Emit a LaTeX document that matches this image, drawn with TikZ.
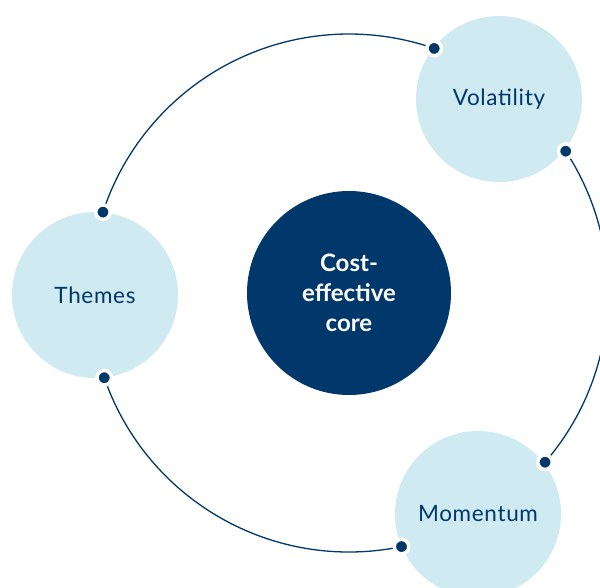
\documentclass[tikz,border=0pt]{standalone}
\usepackage{fontspec}
\setmainfont{Lato}
\newfontfamily\satfont[LetterSpace=3]{Lato}
\usetikzlibrary{calc}
\definecolor{navy}{RGB}{0,56,107}
\definecolor{pale}{RGB}{208,234,242}
\tikzset{
  sat/.style={circle, fill=pale, minimum size=166pt, inner sep=0pt, text=navy,
    font=\satfont\fontsize{22.5}{26}\selectfont},
  corenode/.style={circle, fill=navy, minimum size=204pt, inner sep=0pt, text=white,
    font=\bfseries\fontsize{24}{30}\selectfont, align=center},
  link/.style={draw=navy, line width=1.3pt},
  dotnode/.style={circle, fill=navy, draw=white, line width=3.5pt, minimum size=14.5pt, inner sep=0pt}
}
\begin{document}
\begin{tikzpicture}[x=1pt,y=1pt]
\useasboundingbox (0,0) rectangle (600,587);
\clip (0,0) rectangle (600,587);
\fill[white] (0,0) rectangle (600,587);
% nodes
\node[corenode] (core) at (349,294) {Cost-\\effective\\core};
\node[sat] (vol) at (499,488) {Volatility};
\node[sat] (thm) at (95,292) {Themes};
\node[sat] (mom) at (478,73) {Momentum};
% connection points on the ring
\coordinate (t1) at ($(core.center)+(161.8:259)$);
\coordinate (v1) at ($(core.center)+(70.8:259)$);
\coordinate (v2) at ($(core.center)+(33.2:259)$);
\coordinate (m1) at ($(core.center)+(-40.8:259)$);
\coordinate (m2) at ($(core.center)+(-78.3:259)$);
\coordinate (t2) at ($(core.center)+(-160.9:259)$);
% arcs
\draw[link] (t1) arc[start angle=161.8, end angle=70.8, radius=259];
\draw[link] (v2) arc[start angle=33.2, end angle=-40.8, radius=259];
\draw[link] (m2) arc[start angle=-78.3, end angle=-160.9, radius=259];
% dots
\foreach \p in {t1,v1,v2,m1,m2,t2} \node[dotnode] at (\p) {};
\end{tikzpicture}
\end{document}
